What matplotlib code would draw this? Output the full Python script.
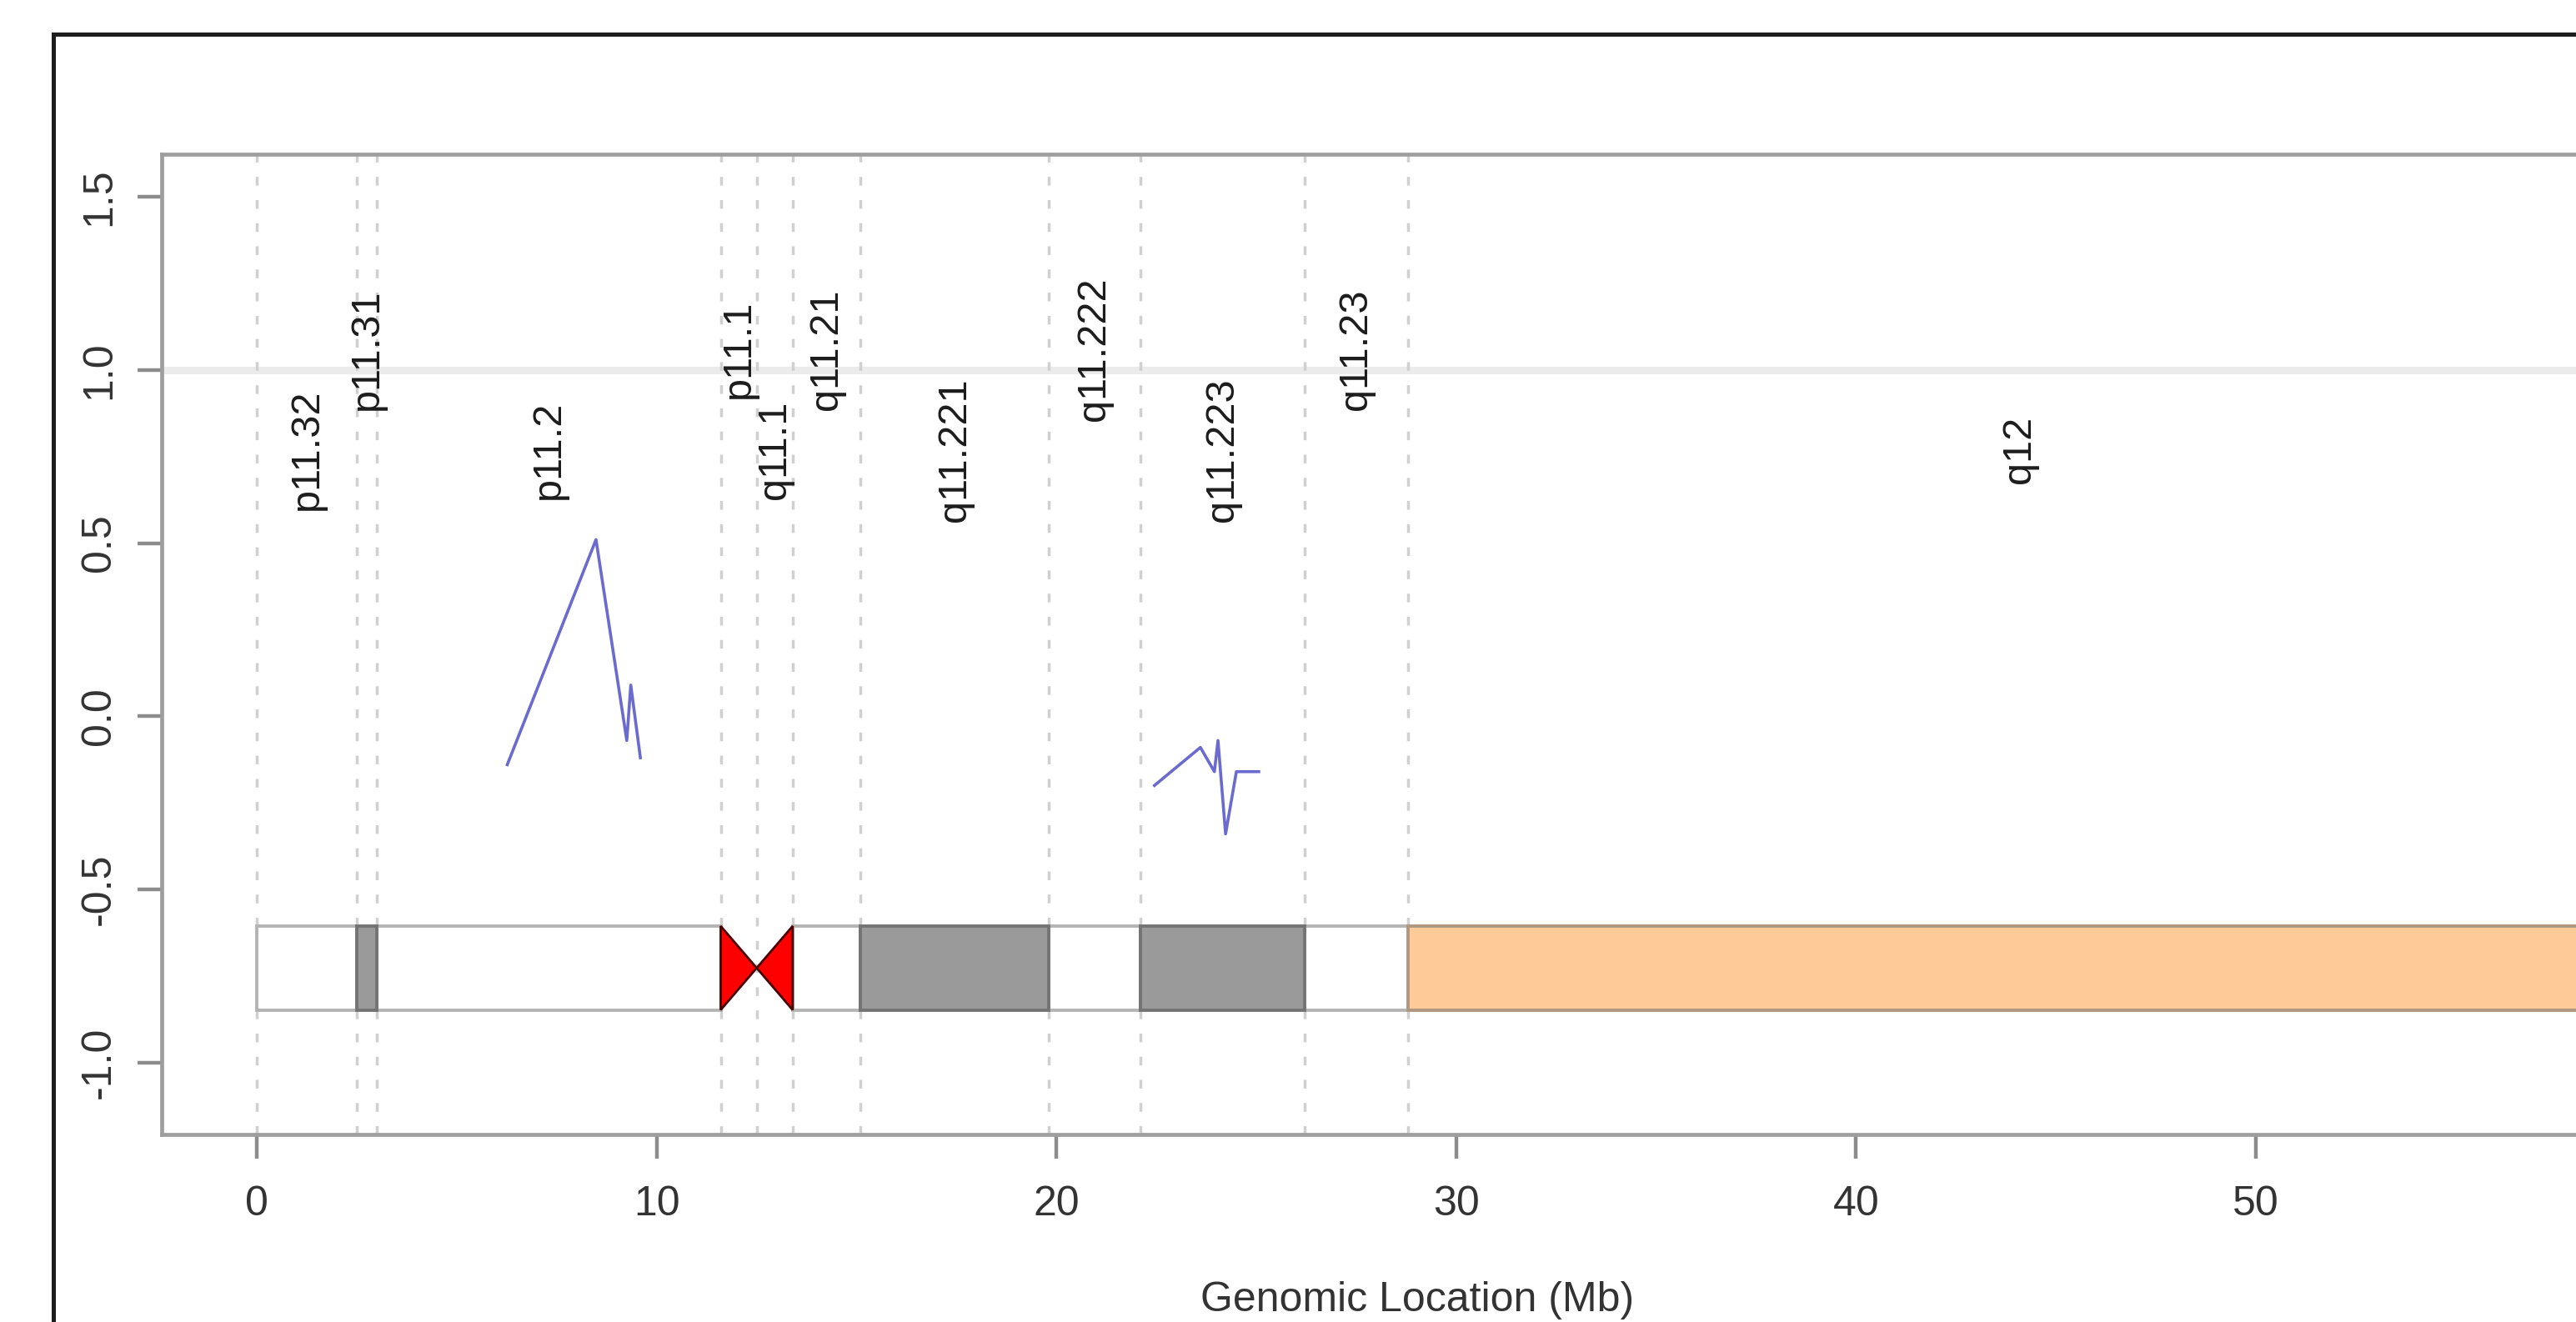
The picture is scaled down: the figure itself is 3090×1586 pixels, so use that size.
import matplotlib
matplotlib.use('Agg')
import matplotlib.pyplot as plt
from matplotlib.patches import Rectangle, Polygon
from matplotlib.lines import Line2D

plt.rcParams['font.family'] = ['Liberation Sans', 'DejaVu Sans']
plt.rcParams['axes.unicode_minus'] = False

# chrY cytobands (Mb)
band_names = ['p11.32', 'p11.31', 'p11.2', 'p11.1', 'q11.1', 'q11.21',
              'q11.221', 'q11.222', 'q11.223', 'q11.23', 'q12']
band_start = [0.0, 2.5, 3.0, 11.6, 12.5, 13.4, 15.1, 19.8, 22.1, 26.2, 28.8]
band_end = [2.5, 3.0, 11.6, 12.5, 13.4, 15.1, 19.8, 22.1, 26.2, 28.8, 59.37]
band_stain = ['gneg', 'gpos50', 'gneg', 'acen', 'acen', 'gneg',
              'gpos50', 'gneg', 'gpos50', 'gneg', 'gvar']

# segment values
seg1_x = [6.26, 8.48, 9.25, 9.35, 9.59]
seg1_y = [-0.14, 0.51, -0.07, 0.09, -0.12]
seg2_x = [22.45, 23.60, 23.95, 24.04, 24.23, 24.50, 25.06]
seg2_y = [-0.20, -0.09, -0.16, -0.07, -0.34, -0.16, -0.16]

x_ticks = [0, 10, 20, 30, 40, 50]
y_ticks = [-1.0, -0.5, 0.0, 0.5, 1.0, 1.5]

fill = {'gneg': 'white', 'gpos50': '#9a9a9a', 'acen': '#ff0000', 'gvar': '#fecb98'}
edge = {'gneg': '#b4b4b4', 'gpos50': '#747474', 'acen': '#4a0000', 'gvar': '#b09780'}

W, H = 3090, 1586
fig = plt.figure(figsize=(W / 100, H / 100), dpi=100)
ax = fig.add_axes([194 / W, 225.3 / H, 3075.2 / W, 1175.7 / H])
ax.set_xlim(-2.384, 61.75)
ax.set_ylim(-1.207, 1.623)

for s in ax.spines.values():
    s.set_color('#9e9e9e')
    s.set_linewidth(3.4)

ax.set_xticks(x_ticks)
ax.set_yticks(y_ticks)
ax.set_yticklabels(['%.1f' % v for v in y_ticks])
ax.tick_params(length=21, width=3.2, color='#8c8c8c', labelsize=36, labelcolor='#333333')
ax.tick_params(axis='x', pad=40)
ax.tick_params(axis='y', pad=33)
for lbl in ax.get_yticklabels():
    lbl.set_rotation(90)
    lbl.set_va('center')
    lbl.set_ha('center')
for lbl in ax.get_xticklabels():
    lbl.set_va('center')

ax.axhline(1.0, color='#ebebeb', lw=6.5, zorder=1)
for s in band_start:
    ax.axvline(s, color='#d0d0d0', lw=2.5, ls=(0, (3, 5)), zorder=1.2)

# ideogram
top, bot = -0.606, -0.848
mid = (top + bot) / 2
for i, (name, s, e, st) in enumerate(zip(band_names, band_start, band_end, band_stain)):
    if st == 'acen':
        if name.startswith('p'):
            pts = [(s, top), (s, bot), (e, mid)]
        else:
            pts = [(e, top), (e, bot), (s, mid)]
        ax.add_patch(Polygon(pts, closed=True, facecolor=fill[st], edgecolor=edge[st],
                             lw=2, zorder=3.2))
    else:
        ax.add_patch(Rectangle((s, bot), e - s, top - bot, facecolor=fill[st],
                               edgecolor=edge[st], lw=2.8,
                               zorder=3.0 if st == 'gneg' else 3.1))
    ly = 0.77 if i % 2 == 0 else 1.06
    ax.text((s + e) / 2, ly, name, rotation=90, ha='center', va='center',
            fontsize=35, color='#1c1c1c', zorder=4)

ax.plot(seg1_x, seg1_y, color='#3a3ac0', alpha=0.75, lw=2.6, zorder=5)
ax.plot(seg2_x, seg2_y, color='#3a3ac0', alpha=0.75, lw=2.6, zorder=5)

ax.set_xlabel('Genomic Location (Mb)', fontsize=36, color='#333333')
ax.xaxis.set_label_coords(0.4897, -0.1695)
ax.xaxis.label.set_va('center')

# outer frame of the screenshot
fx, fy = 64 / W, 1 - 41 / H
fig.add_artist(Line2D([fx, fx], [0, fy], transform=fig.transFigure, color='#1e1e1e', lw=3.6))
fig.add_artist(Line2D([fx, 1], [fy, fy], transform=fig.transFigure, color='#1e1e1e', lw=3.6))

fig.savefig('out.png', dpi=100)
